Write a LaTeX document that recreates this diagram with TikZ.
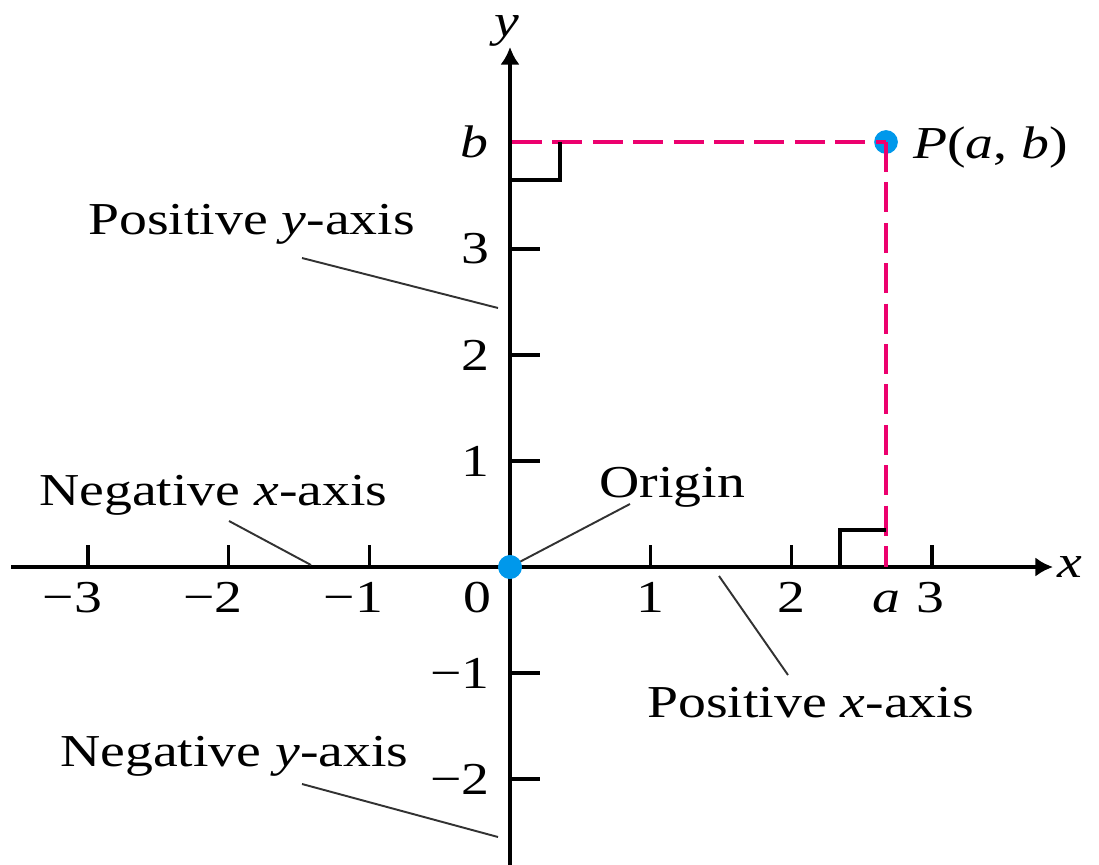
\documentclass[tikz,border=0pt]{standalone}
\usepackage{fontspec}
\setmainfont{Liberation Serif}
\usepackage{graphicx}
\usetikzlibrary{arrows.meta}
\definecolor{pinkline}{RGB}{236,0,110}
\definecolor{dotblue}{RGB}{0,152,235}
\definecolor{leadgray}{RGB}{50,50,50}
\newcommand{\sx}[1]{\scalebox{1.22}[1]{#1}}
\begin{document}
\begin{tikzpicture}[x=0.02cm,y=-0.02cm,
  axisline/.style={line width=2.2pt,-{Latex[length=10pt,width=11pt]}},
  tickline/.style={line width=2pt},
  guide/.style={pinkline,line width=2pt,dash pattern=on 17pt off 6pt},
  leader/.style={line width=1.1pt,leadgray},
  lbl/.style={inner sep=0pt,font=\fontsize{26}{30}\selectfont},
  dotnode/.style={circle,fill=dotblue,minimum size=13.5pt,inner sep=0pt}]
\useasboundingbox (0,0) rectangle (1099,865);
% axes
\coordinate (xl) at (11,567);
\coordinate (xr) at (1053,567);
\coordinate (yb) at (510,865);
\coordinate (yt) at (510,47);
\draw[axisline] (xl) -- (xr);
\draw[axisline] (yb) -- (yt);
% x ticks
\foreach \t/\xx in {m3/88,m2/228.6,m1/369.3,p1/650.7,p2/791.4,p3/932.1}{
  \coordinate (xt\t a) at (\xx,567);
  \coordinate (xt\t b) at (\xx,545);
  \draw[tickline] (xt\t a) -- (xt\t b);
}
% y ticks
\foreach \t/\yy in {p1/461,p2/355,p3/249,m1/673,m2/779}{
  \coordinate (yt\t a) at (510,\yy);
  \coordinate (yt\t b) at (540,\yy);
  \draw[tickline] (yt\t a) -- (yt\t b);
}
% point and guides
\node[dotnode] (P) at (886,142) {};
\node[dotnode] (O) at (510,567) {};
\coordinate (bY) at (512,142);
\coordinate (aX) at (886,567);
\draw[guide] (bY) -- (P.center);
\draw[guide] (P.center) -- (aX);
% right angle marks
\coordinate (ra1s) at (510,180);
\coordinate (ra1e) at (560,142);
\draw[tickline] (ra1s) -| (ra1e);
\coordinate (ra2s) at (886,530);
\coordinate (ra2e) at (840,567);
\draw[tickline] (ra2s) -| (ra2e);
% axis labels
\node[lbl,anchor=base] (ylab) at (507,37) {\sx{\textit{y}}};
\node[lbl,anchor=base] (xlab) at (1070,577) {\sx{\textit{x}}};
% x tick labels
\node[lbl,anchor=base] (lxm3) at (88,612) {\sx{\llap{−}3}};
\node[lbl,anchor=base] (lxm2) at (228.6,612) {\sx{\llap{−}2}};
\node[lbl,anchor=base] (lxm1) at (369.3,612) {\sx{\llap{−}1}};
\node[lbl,anchor=base] (lx0) at (477,612) {\sx{0}};
\node[lbl,anchor=base] (lx1) at (650.7,612) {\sx{1}};
\node[lbl,anchor=base] (lx2) at (791.4,612) {\sx{2}};
\node[lbl,anchor=base] (lxa) at (886,612) {\sx{\textit{a}}};
\node[lbl,anchor=base] (lx3) at (930,612) {\sx{3}};
% y tick labels
\node[lbl,anchor=east] (ly1) at (490,461) {\sx{1}};
\node[lbl,anchor=east] (ly2) at (490,355) {\sx{2}};
\node[lbl,anchor=east] (ly3) at (490,249) {\sx{3}};
\node[lbl,anchor=east] (lym1) at (490,673) {\sx{−1}};
\node[lbl,anchor=east] (lym2) at (490,779) {\sx{−2}};
\node[lbl,anchor=base] (lyb) at (474,157) {\sx{\textit{b}}};
% point label
\node[lbl,anchor=base west] (Plab) at (913,158) {\sx{\textit{P}(\textit{a}, \textit{b})}};
% descriptive labels
\node[lbl,anchor=base west] (posy) at (88,235) {\sx{Positive \textit{y}-axis}};
\node[lbl,anchor=base west] (negx) at (39,505) {\sx{Negative \textit{x}-axis}};
\node[lbl,anchor=base west] (orig) at (599,497) {\sx{Origin}};
\node[lbl,anchor=base west] (posx) at (647,717) {\sx{Positive \textit{x}-axis}};
\node[lbl,anchor=base west] (negy) at (60,766) {\sx{Negative \textit{y}-axis}};
% leaders
\coordinate (posyA) at (302,258);
\coordinate (posyB) at (498,308);
\draw[leader] (posyA) -- (posyB);
\coordinate (negxA) at (229,521);
\coordinate (negxB) at (311,565);
\draw[leader] (negxA) -- (negxB);
\coordinate (origA) at (630,504);
\draw[leader] (O.center) -- (origA);
\coordinate (posxA) at (719,576);
\coordinate (posxB) at (788,675);
\draw[leader] (posxA) -- (posxB);
\coordinate (negyA) at (302,784);
\coordinate (negyB) at (498,837);
\draw[leader] (negyA) -- (negyB);
\node[dotnode] at (O) {};
\end{tikzpicture}
\end{document}
